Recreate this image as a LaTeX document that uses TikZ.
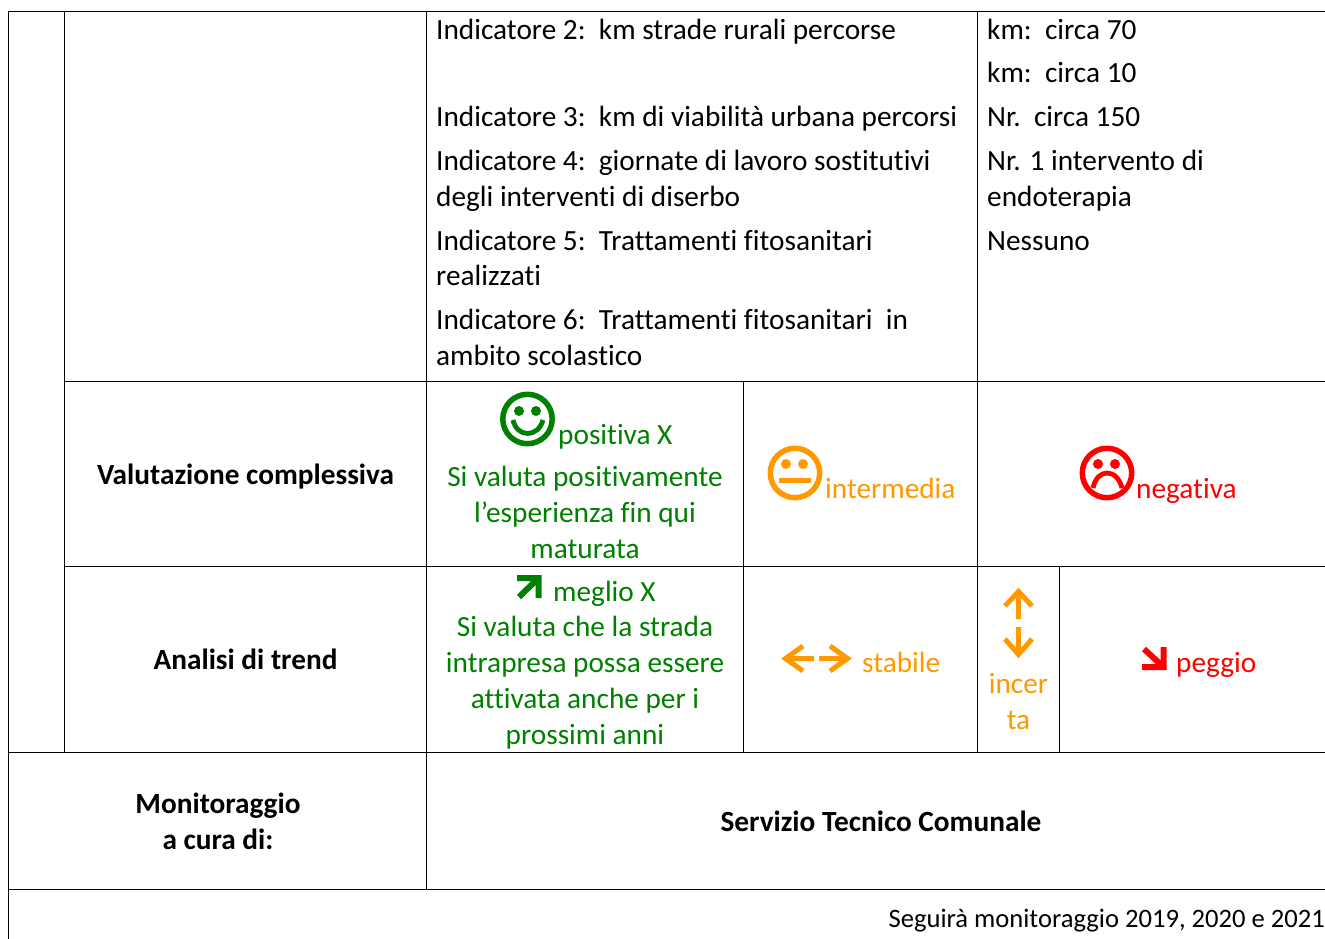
\documentclass[tikz,border=0pt]{standalone}
\usepackage{fontspec}
\setmainfont[Ligatures=NoCommon]{Carlito}
\definecolor{gr}{RGB}{0,128,0}
\definecolor{og}{RGB}{255,153,0}
\definecolor{rd}{RGB}{255,0,0}
\tikzset{
 x=1pt,y=-1pt,
 grid/.style={draw=black,line width=1pt},
 txt/.style={anchor=base west,inner sep=0pt,yshift=-0.8pt,font=\fontsize{29.3}{36}\selectfont},
 ctr/.style={anchor=base,inner sep=0pt,yshift=-0.8pt,font=\fontsize{29.3}{36}\selectfont},
 hdr/.style={anchor=base,inner sep=0pt,yshift=-0.8pt,font=\fontsize{29.3}{36}\selectfont\bfseries},
 face/.style={line width=5.5pt},
 mouth/.style={line width=4.8pt},
 glyph/.style={line width=5pt,miter limit=10},
 boldglyph/.style={line width=6pt,miter limit=10},
}
\begin{document}
\begin{tikzpicture}
\useasboundingbox (0,0) rectangle (1325,939);
\fill[white] (0,0) rectangle (1325,939);
% table rules
\draw[grid] (8,11.5) -- (1325,11.5);
\draw[grid] (8.5,11) -- (8.5,939);
\draw[grid] (64.5,11) -- (64.5,752);
\draw[grid] (426.5,11) -- (426.5,889);
\draw[grid] (977.5,11) -- (977.5,752);
\draw[grid] (743.5,381) -- (743.5,752);
\draw[grid] (1059.5,566) -- (1059.5,752);
\draw[grid] (64,381.5) -- (1325,381.5);
\draw[grid] (64,566.5) -- (1325,566.5);
\draw[grid] (8,752.5) -- (1325,752.5);
\draw[grid] (8,889.5) -- (1325,889.5);
% indicators
\node[txt] (i2) at (436,39) {Indicatore 2:\ \ km strade rurali percorse};
\node[txt] (i3) at (436,126) {Indicatore 3:\ \ km di viabilità urbana percorsi};
\node[txt] (i4) at (436,170) {Indicatore 4:\ \ giornate di lavoro sostitutivi};
\node[txt] (i4b) at (436,206) {degli interventi di diserbo};
\node[txt] (i5) at (436,250) {Indicatore 5:\ \ Trattamenti fitosanitari};
\node[txt] (i5b) at (436,285) {realizzati};
\node[txt] (i6) at (436,329) {Indicatore 6:\ \ Trattamenti fitosanitari\ \ in};
\node[txt] (i6b) at (436,365) {ambito scolastico};
\node[txt] (v1) at (987,39) {km:\ \ circa 70};
\node[txt] (v2) at (987,82) {km:\ \ circa 10};
\node[txt] (v3) at (987,126) {Nr.\ \ circa 150};
\node[txt] (v4) at (987,170) {Nr. 1 intervento di};
\node[txt] (v4b) at (987,206) {endoterapia};
\node[txt] (v5) at (987,250) {Nessuno};
% row heads
\node[hdr] (val) at (245.5,484) {Valutazione complessiva};
\node[hdr] (tre) at (245.5,669) {Analisi di trend};
\node[hdr] (mon) at (218,813) {Monitoraggio};
\node[hdr] (mon2) at (218,849) {a cura di:};
\node[hdr] (ser) at (881,831) {Servizio Tecnico Comunale};
\node[anchor=base east,inner sep=0pt,yshift=-0.5pt,font=\fontsize{26.6}{30}\selectfont] (seg) at (1325,927) {Seguirà monitoraggio 2019, 2020 e 2021};
% positive
\begin{scope}[gr]
\draw[face] (527.5,419) circle (24.7);
\fill (519,411) circle (5) (536,411) circle (5);
\draw[mouth] (513,420) .. controls (517,438) and (538,438) .. (543,420);
\node[txt,text=gr] (pos) at (558,444) {positiva X};
\node[ctr,text=gr] (p1) at (585,486) {Si valuta positivamente};
\node[ctr,text=gr] (p2) at (585,522) {l’esperienza fin qui};
\node[ctr,text=gr] (p3) at (585,558) {maturata};
\draw[boldglyph] (517,578) -- (538.5,578) -- (538.5,598) (538.5,578) -- (519,597);
\node[txt,text=gr] (meg) at (553,601) {meglio X};
\node[ctr,text=gr] (m1) at (585,636) {Si valuta che la strada};
\node[ctr,text=gr] (m2) at (585,672) {intrapresa possa essere};
\node[ctr,text=gr] (m3) at (585,708) {attivata anche per i};
\node[ctr,text=gr] (m4) at (585,744) {prossimi anni};
\end{scope}
% intermediate
\begin{scope}[og]
\draw[face] (795,473) circle (24.7);
\fill (786,464) circle (5) (803,464) circle (5);
\draw[line width=5pt] (779,480) -- (811,480);
\node[txt,text=og] (int) at (825,498) {intermedia};
\draw[glyph] (803,646) -- (785.5,658.5) -- (803,671) (785.5,658.5) -- (814,658.5);
\draw[glyph] (830,646) -- (847.5,658.5) -- (830,671) (847.5,658.5) -- (819,658.5);
\node[txt,text=og] (sta) at (862,672) {stabile};
\draw[glyph] (1005,606) -- (1018.5,591.5) -- (1032,606) (1018.5,591.5) -- (1018.5,619);
\draw[glyph] (1005,639) -- (1018.5,654.5) -- (1032,639) (1018.5,654.5) -- (1018.5,627);
\node[ctr,text=og] (inc) at (1018.5,693) {incer};
\node[ctr,text=og] (ta) at (1018.5,729) {ta};
\end{scope}
% negative
\begin{scope}[rd]
\draw[face] (1107,473) circle (24.7);
\fill (1098,464) circle (5) (1115,464) circle (5);
\draw[mouth] (1093,488) .. controls (1097,468) and (1117,468) .. (1122,488);
\node[txt,text=rd] (neg) at (1136,498) {negativa};
\draw[boldglyph] (1142,667) -- (1163.5,667) -- (1163.5,647) (1163.5,667) -- (1144,649);
\node[txt,text=rd] (peg) at (1176,672) {peggio};
\end{scope}
\end{tikzpicture}
\end{document}
